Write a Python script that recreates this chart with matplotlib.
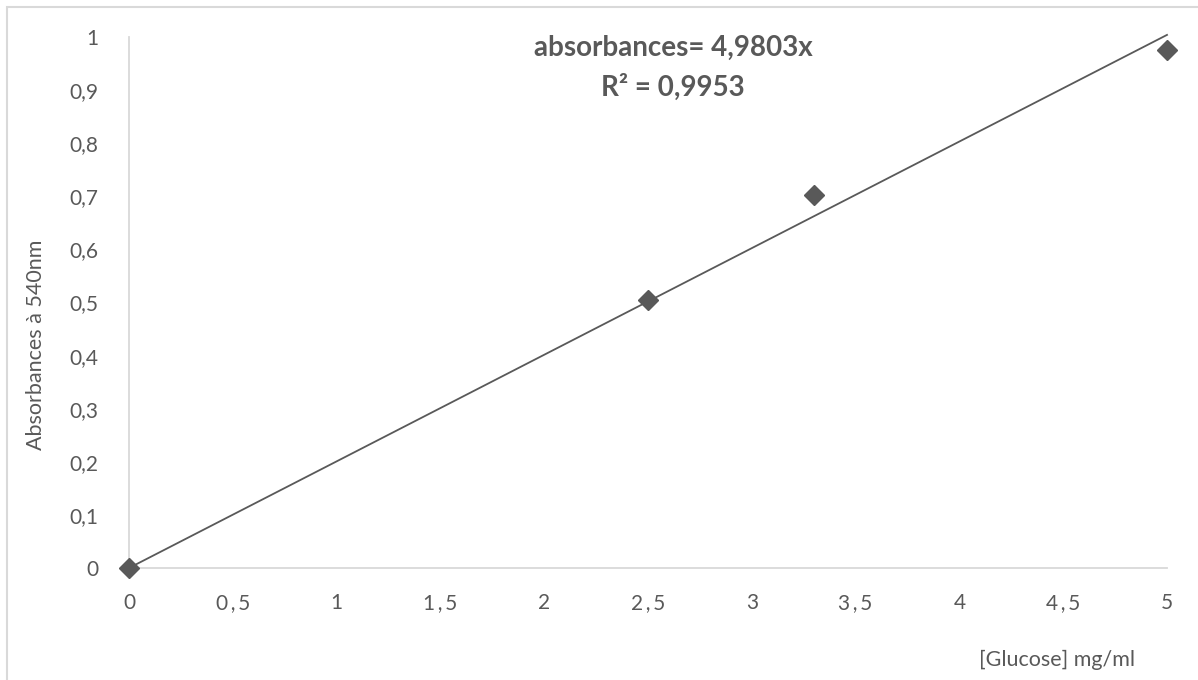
import matplotlib
matplotlib.use("Agg")
import matplotlib.pyplot as plt
import numpy as np
from matplotlib.patches import Rectangle

plt.rcParams['font.family'] = ['Lato', 'DejaVu Sans']

glucose = [0, 2.5, 3.3, 5]
absorbance = [0, 0.505, 0.702, 0.975]
slope_label = "4,9803"
r2_label = "0,9953"
trend_coef = 4.9803
x_ticks = [0, 0.5, 1, 1.5, 2, 2.5, 3, 3.5, 4, 4.5, 5]
x_tick_labels = ["0", "0\u2009,\u20095", "1", "1\u2009,\u20095", "2", "2\u2009,\u20095", "3",
                 "3\u2009,\u20095", "4", "4\u2009,\u20095", "5"]
y_ticks = [0, 0.1, 0.2, 0.3, 0.4, 0.5, 0.6, 0.7, 0.8, 0.9, 1]
y_tick_labels = ["0", "0,1", "0,2", "0,3", "0,4", "0,5", "0,6", "0,7", "0,8", "0,9", "1"]

TXT = "#595959"
W, H = 1198, 680
fig = plt.figure(figsize=(W / 100, H / 100), dpi=100)
fig.patches.append(Rectangle((7 / W, -0.05), 1.2, 1 - 7 / H + 0.05, transform=fig.transFigure,
                             fill=False, edgecolor="#d9d9d9", linewidth=1.5))

ax = fig.add_axes([129 / W, 1 - 568 / H, (1167 - 129) / W, (568 - 37) / H])
ax.set_xlim(0, 5)
ax.set_ylim(0, 1)

xs = np.array([0, 5])
ax.plot(xs, xs / trend_coef, color=TXT, linewidth=1.3, zorder=2, clip_on=False)
ax.plot(glucose, absorbance, linestyle="none", marker="D", markersize=10.5,
        color=TXT, zorder=3, clip_on=False)

for s in ["top", "right"]:
    ax.spines[s].set_visible(False)
for s in ["left", "bottom"]:
    ax.spines[s].set_color("#d9d9d9")
    ax.spines[s].set_linewidth(1.3)
ax.spines["left"].set_zorder(0)
ax.spines["bottom"].set_zorder(0)

ax.set_xticks(x_ticks)
ax.set_xticklabels(x_tick_labels)
ax.set_yticks(y_ticks)
ax.set_yticklabels(y_tick_labels)
ax.tick_params(axis="both", length=0, labelsize=15, labelcolor=TXT)
ax.tick_params(axis="x", pad=18)
ax.tick_params(axis="y", pad=22)

fig.text(673 / W, 1 - 48 / H, "absorbances= " + slope_label + "x", ha="center", va="center",
         fontsize=20, fontweight="bold", color=TXT)
fig.text(673 / W, 1 - 87 / H, "R² = " + r2_label, ha="center", va="center",
         fontsize=20, fontweight="bold", color=TXT)

fig.text(36 / W, 1 - 345 / H, "Absorbances à 540nm", rotation=90, ha="center", va="center",
         fontsize=15.5, color=TXT)
fig.text(1057 / W, 1 - 660 / H, "[Glucose] mg/ml", ha="center", va="center",
         fontsize=15.5, color=TXT)

fig.savefig("out.png", dpi=100)
